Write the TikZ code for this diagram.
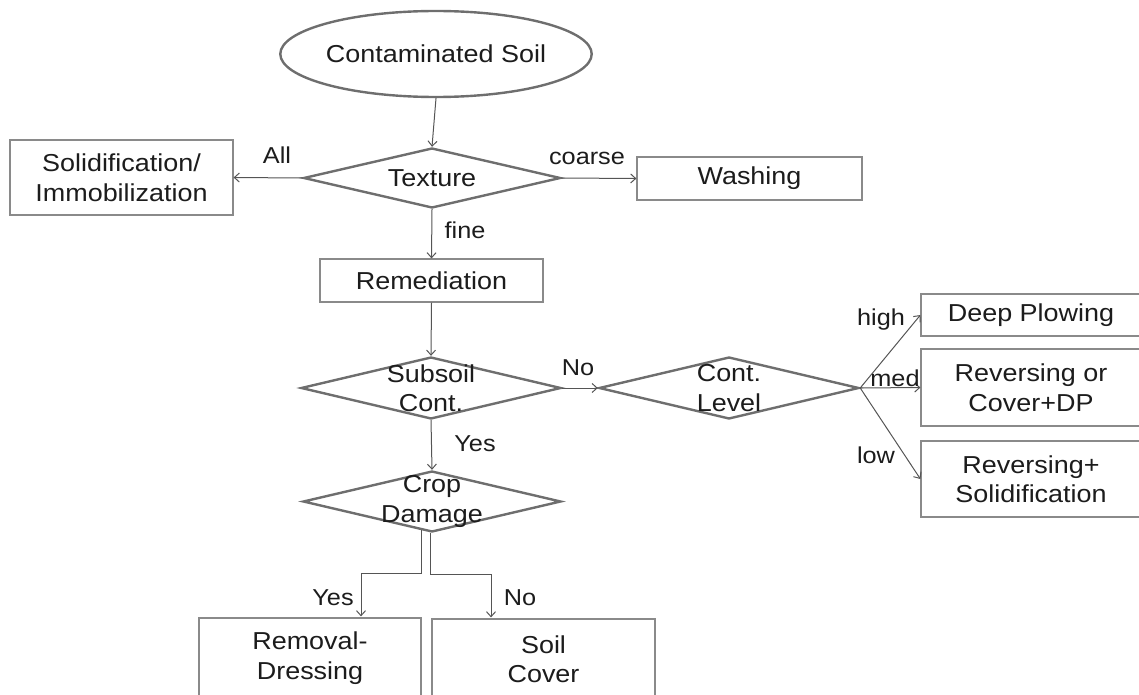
\documentclass[tikz,border=0pt]{standalone}
\usepackage{fontspec}
\setmainfont{Liberation Sans}[FakeStretch=1.1]
\usetikzlibrary{shapes.geometric,arrows.meta,calc}
\definecolor{ln}{HTML}{555555}
\definecolor{boxc}{HTML}{8A8A8A}
\definecolor{diac}{HTML}{6E6E6E}
\definecolor{txt}{HTML}{1C1C1C}
\newcommand{\mainf}{\fontsize{24.5}{29.5}\selectfont}
\newcommand{\lblf}{\fontsize{23}{27}\selectfont}
\tikzset{
  box/.style={draw=boxc, line width=1.2pt, fill=white, align=center, inner sep=0pt, font=\mainf, text=txt},
  dia/.style={draw=diac, line width=2.4pt, shape=diamond, inner sep=0pt, minimum width=258pt, minimum height=61pt},
  diatext/.style={font=\mainf, text=txt, align=center, inner sep=0pt},
  lbl/.style={font=\lblf, text=txt, inner sep=0pt},
  arr/.style={draw=ln, line width=1pt, -{Straight Barb[length=5pt,width=9pt]}}
}
\begin{document}
\begin{tikzpicture}[x=1pt,y=-1pt]
\useasboundingbox (0,0) rectangle (1139,695);
\clip (0,0) rectangle (1139,695);

% nodes
\node[draw=diac, line width=2.4pt, shape=ellipse, minimum width=302pt, minimum height=86pt, inner sep=0pt, font=\mainf, text=txt] (soil) at (436,54) {Contaminated Soil};

\node[dia, minimum width=257pt, minimum height=60pt, label={[diatext]center:Texture}] (texture) at (432,178) {};

\node[box, minimum width=223pt, minimum height=75pt] (solid) at (121.5,177.5) {Solidification/\\Immobilization};
\node[box, minimum width=225pt, minimum height=43pt] (washing) at (749.5,178.5) {Washing};
\node[box, minimum width=223pt, minimum height=43pt] (remed) at (431.5,280.5) {Remediation};

\node[dia, minimum width=260pt, minimum height=62pt, label={[diatext]center:{Subsoil\\Cont.}}] (subsoil) at (431,388) {};
\node[dia, minimum width=260pt, minimum height=62pt, label={[diatext]center:{Cont.\\Level}}] (contlevel) at (729,388) {};
\node[dia, minimum width=258pt, minimum height=61pt, label={[diatext]center:{Crop\\Damage}}] (crop) at (432,501.5) {};

\node[box, minimum width=220pt, minimum height=42pt] (deep) at (1031,315) {Deep Plowing};
\node[box, minimum width=220pt, minimum height=77pt] (revcov) at (1031,387.5) {Reversing or\\Cover+DP};
\node[box, minimum width=220pt, minimum height=76pt] (revsol) at (1031,479) {Reversing+\\Solidification};

\node[box, minimum width=222pt, minimum height=80pt] (removal) at (310,658) {Removal-\\Dressing};
\node[box, minimum width=223pt, minimum height=80pt] (cover) at (543.5,659) {Soil\\Cover};

% connectors
\draw[arr] (soil.south) -- (texture.north);
\draw[arr] (texture.west) -- (solid.east);
\draw[arr] (texture.east) -- (washing.west);
\draw[arr] (texture.south) -- (remed.north);
\draw[arr] (remed.south) -- (subsoil.north);
\draw[arr] (subsoil.east) -- (contlevel.west);
\draw[arr] (subsoil.south) -- (crop.north);
\draw[arr] (contlevel.east) -- (deep.west);
\draw[arr] (contlevel.east) -- (revcov.west);
\draw[arr] (contlevel.east) -- (revsol.west);
\draw[arr] ($(crop.south)+(-11,-3)$) |- ($(removal.north)+(51,-44)$) -- ($(removal.north)+(51,-1)$);
\draw[arr] ($(crop.south)+(-2,0)$) |- ($(cover.north)+(-52.5,-44)$) -- ($(cover.north)+(-52.5,-1)$);

% labels
\node[lbl] (lAll) at (277,155) {All};
\node[lbl] (lCoarse) at (587,158) {coarse};
\node[lbl] (lFine) at (465,230) {fine};
\node[lbl] (lNo) at (578,368) {No};
\node[lbl] (lYes) at (475,444) {Yes};
\node[lbl] (lHigh) at (881,320) {high};
\node[lbl] (lMed) at (895,378) {med};
\node[lbl] (lLow) at (876,455) {low};
\node[lbl] (lYes2) at (333,598) {Yes};
\node[lbl] (lNo2) at (520,598) {No};
\end{tikzpicture}
\end{document}
